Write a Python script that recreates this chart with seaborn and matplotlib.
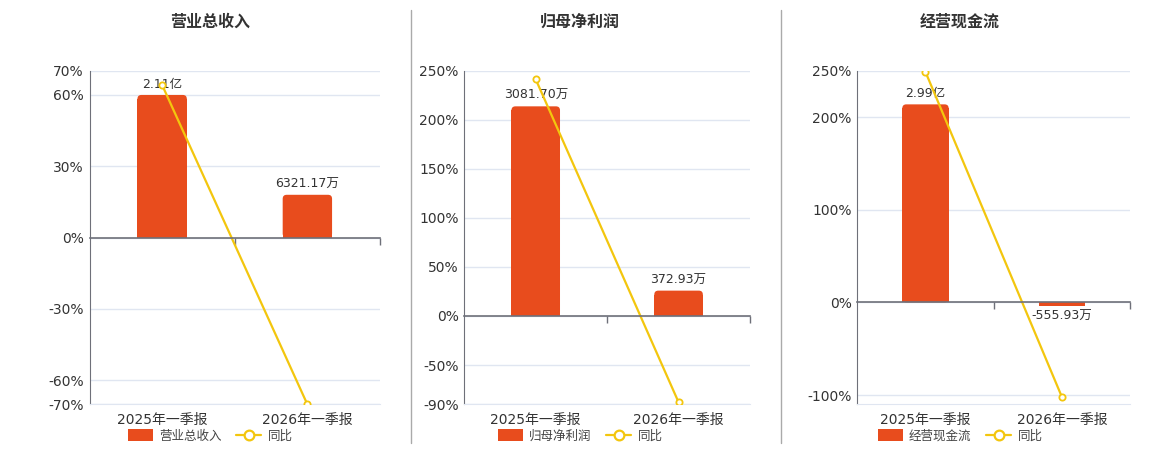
import matplotlib
matplotlib.use("Agg")
import matplotlib.pyplot as plt
import seaborn as sns
from matplotlib.patches import Patch, FancyBboxPatch
from matplotlib.lines import Line2D
from matplotlib.ticker import FixedLocator

sns.set_style("white")
plt.rcParams["font.family"] = ["DejaVu Sans", "Noto Sans CJK SC"]

categories = ["2025年一季报", "2026年一季报"]

titles = ["营业总收入", "归母净利润", "经营现金流"]

revenue = [2.11e8, 6321.17e4]
revenue_labels = ["2.11亿", "6321.17万"]
revenue_yoy = [64.0, -70.04]

profit = [3081.70e4, 372.93e4]
profit_labels = ["3081.70万", "372.93万"]
profit_yoy = [241.2, -87.9]

cashflow = [2.99e8, -555.93e4]
cashflow_labels = ["2.99亿", "-555.93万"]
cashflow_yoy = [248.7, -101.9]

yticks = [
    [-70, -60, -30, 0, 30, 60, 70],
    [-90, -50, 0, 50, 100, 150, 200, 250],
    [-100, 0, 100, 200, 250],
]
ylims = [(-70, 70), (-90, 250), (-110, 250)]

BAR_COLOR = "#E84C1D"
LINE_COLOR = "#F3C60E"
GRID_COLOR = "#E0E6F1"
AXIS_COLOR = "#6E7079"
TEXT_COLOR = "#333333"
BAR_HEADROOM = 1.17
CORNER_PX = 4

W, H = 1160, 450
fig = plt.figure(figsize=(W / 100, H / 100), dpi=100)

# pixel boxes: left, right of each plot area
boxes = [(89.5, 380), (464.3, 750), (857.3, 1130)]
top_px, bottom_px = 70.7, 404.3
centers = [210, 580, 960]

panels = [
    (revenue, revenue_labels, revenue_yoy),
    (profit, profit_labels, profit_yoy),
    (cashflow, cashflow_labels, cashflow_yoy),
]

for i, (vals, labels, yoy) in enumerate(panels):
    l, r = boxes[i]
    ax = fig.add_axes([l / W, 1 - bottom_px / H, (r - l) / W, (bottom_px - top_px) / H])
    ax_bar = ax.twinx()
    ax_line = ax.twinx()

    sns.barplot(x=categories, y=vals, ax=ax_bar, color=BAR_COLOR, width=0.34,
                saturation=1, edgecolor="none")
    sns.pointplot(x=categories, y=yoy, ax=ax_line, color=LINE_COLOR,
                  markersize=4.5, linewidth=1.6, markerfacecolor="white",
                  markeredgewidth=1.3, markeredgecolor=LINE_COLOR)

    lo, hi = ylims[i]
    ax.set_ylim(lo, hi)
    ax_line.set_ylim(lo, hi)
    bar_top = max(vals) * BAR_HEADROOM
    bar_bot = bar_top * lo / hi
    ax_bar.set_ylim(bar_bot, bar_top)
    ax_bar.set_xlim(-0.5, 1.5)

    ax_bar.bar_label(ax_bar.containers[0], labels=labels, padding=3,
                     fontsize=9, color=TEXT_COLOR)

    # rounded top corners on the positive bars
    px_x = (r - l) / 2.0
    px_y = (bottom_px - top_px) / (bar_top - bar_bot)
    ry = CORNER_PX / px_y
    for p in list(ax_bar.patches):
        x0, w, h = p.get_x(), p.get_width(), p.get_height()
        if h <= 2 * ry:
            continue
        p.set_height(h - ry)
        ax_bar.add_patch(FancyBboxPatch(
            (x0, 0), w, h,
            boxstyle=f"round,pad=0,rounding_size={CORNER_PX / px_x}",
            mutation_aspect=px_x / px_y, facecolor=BAR_COLOR, edgecolor="none"))

    # percent axis with grid
    ax.set_yticks(yticks[i])
    ax.set_yticklabels([f"{t}%" for t in yticks[i]])
    ax.yaxis.grid(True, color=GRID_COLOR, linewidth=1)
    ax.set_axisbelow(True)
    ax.tick_params(axis="y", length=0, pad=4, labelsize=10, labelcolor=TEXT_COLOR)
    for s in ["top", "right"]:
        ax.spines[s].set_visible(False)
    ax.spines["left"].set_color(AXIS_COLOR)
    ax.spines["bottom"].set_color(GRID_COLOR)

    ax.set_xlim(-0.5, 1.5)
    ax.xaxis.set_major_locator(FixedLocator([0, 1]))
    ax.xaxis.set_minor_locator(FixedLocator([0.5, 1.5]))
    ax.set_xticklabels(categories)
    ax.tick_params(axis="x", which="both", length=0, pad=6, labelsize=10,
                   labelcolor=TEXT_COLOR)

    ax_bar.set_axis_off()

    # zero line with category boundary ticks
    ax_line.xaxis.set_visible(True)
    for s in ["top", "right", "left"]:
        ax_line.spines[s].set_visible(False)
    ax_line.spines["bottom"].set_position(("data", 0))
    ax_line.spines["bottom"].set_color(AXIS_COLOR)
    ax_line.spines["bottom"].set_linewidth(1.2)
    ax_line.tick_params(axis="y", right=False, labelright=False, left=False, labelleft=False)
    ax_line.tick_params(axis="x", which="major", length=0, labelbottom=False)
    ax_line.tick_params(axis="x", which="minor", bottom=True, length=5, width=1,
                        color=AXIS_COLOR, direction="out")
    ax_line.set_xlabel("")
    ax_line.set_ylabel("")

    fig.text(centers[i] / W, 1 - 22 / H, titles[i], ha="center", va="center",
             fontsize=11.5, fontweight="bold", color=TEXT_COLOR,
             family=["Noto Sans CJK SC"])

    handles = [
        Patch(facecolor=BAR_COLOR, edgecolor="none"),
        Line2D([], [], color=LINE_COLOR, lw=1.6, marker="o", markersize=7,
               markerfacecolor="white", markeredgewidth=1.6),
    ]
    fig.legend(handles, [titles[i], "同比"], loc="center",
               bbox_to_anchor=(centers[i] / W, 1 - 436 / H), ncol=2, frameon=False,
               fontsize=9, handlelength=2.0, handleheight=1.1, handletextpad=0.5,
               columnspacing=1.2, labelcolor="#444444")

for x in [410.7, 780.7]:
    fig.add_artist(Line2D([x / W, x / W], [1 - 10 / H, 1 - 443 / H],
                          color="#AAAAAA", lw=1))

fig.savefig("out.png", dpi=100)
